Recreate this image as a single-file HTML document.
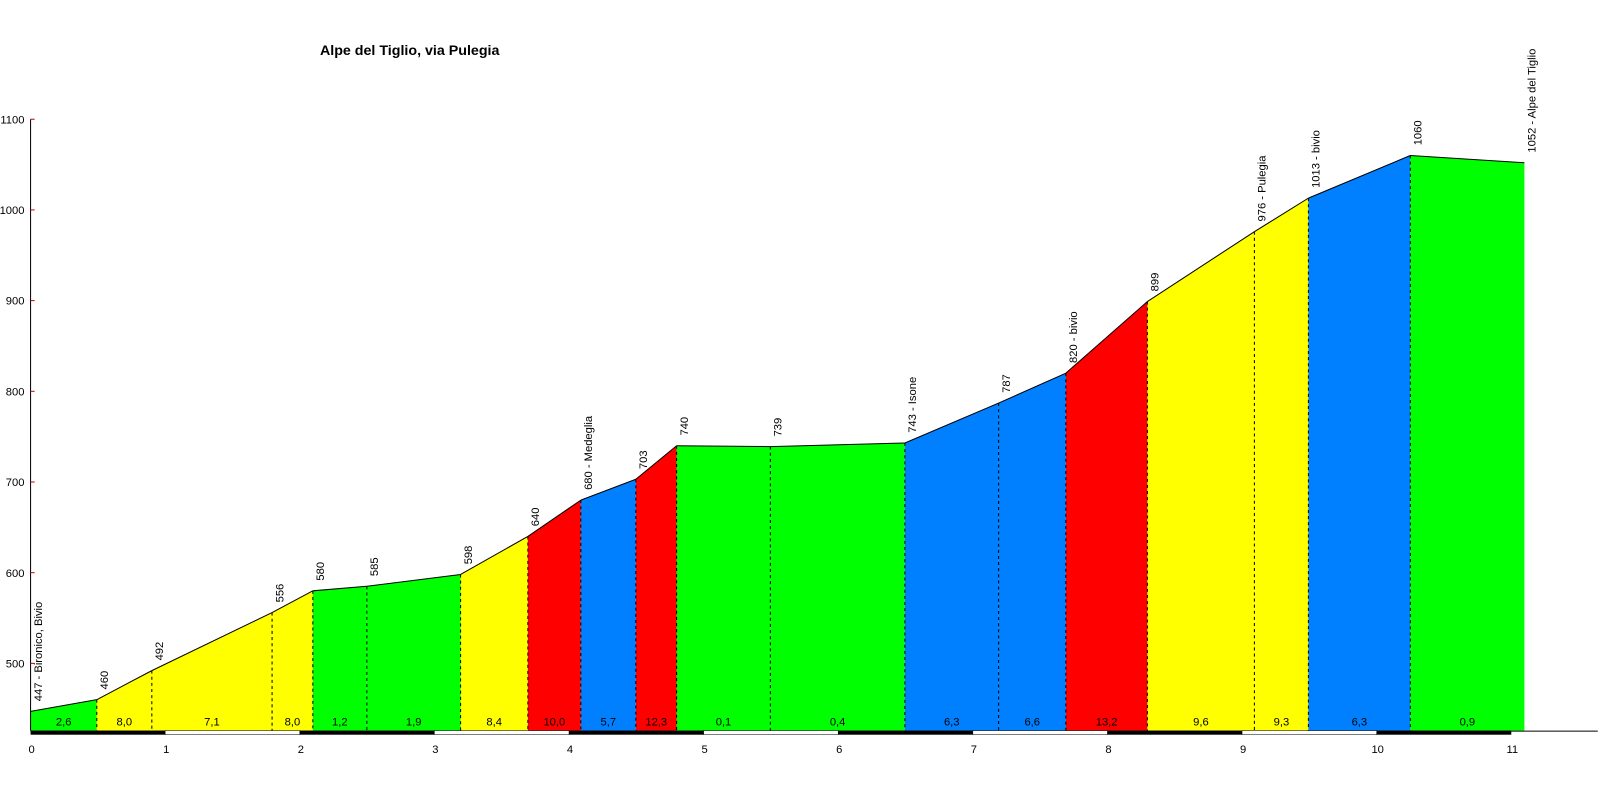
<!DOCTYPE html>
<html><head><meta charset="utf-8"><style>html,body{margin:0;background:#fff;overflow:hidden}svg{display:block}</style></head><body>
<svg width="1600" height="800" xmlns="http://www.w3.org/2000/svg" font-family="Liberation Sans, sans-serif">
<g transform="scale(1.019)">
<text x="314" y="54" font-size="14" font-weight="bold">Alpe del Tiglio, via Pulegia</text>
<g id="fills"></g>
<g id="dash" stroke="#000" stroke-dasharray="3,3" stroke-width="1"></g>
<g id="lbl" font-size="11"></g>
<g id="grad" font-size="11" text-anchor="middle"></g>
<line x1="30" y1="117" x2="30" y2="717" stroke="#000"/>
<g id="yt" font-size="11" text-anchor="end"></g>
<g id="band"></g>
<g id="xt" font-size="11" text-anchor="middle"></g>
</g>
</svg>
<script>
const ns="http://www.w3.org/2000/svg";
function el(p,t,a,txt){const e=document.createElementNS(ns,t);for(const k in a)e.setAttribute(k,a[k]);if(txt!==undefined)e.textContent=txt;document.getElementById(p).appendChild(e);return e;}
const Y=e=>651-(e-500)*0.89;
const P=[[30,447,"447 - Bironico, Bivio"],[95,460,"460"],[149,492,"492"],[267,556,"556"],[307,580,"580"],[360,585,"585"],[452,598,"598"],[518,640,"640"],[570,680,"680 - Medeglia"],[624,703,"703"],[664,740,"740"],[756,739,"739"],[888,743,"743 - Isone"],[980,787,"787"],[1046,820,"820 - bivio"],[1126,899,"899"],[1231,976,"976 - Pulegia"],[1284,1013,"1013 - bivio"],[1384,1060,"1060"],[1496,1052,"1052 - Alpe del Tiglio"]];
const G="#00ff00",Yl="#ffff00",R="#ff0000",B="#0080ff";
const col=[G,Yl,Yl,Yl,G,G,Yl,R,B,R,G,G,B,B,R,Yl,Yl,B,G];
const gr=["2,6","8,0","7,1","8,0","1,2","1,9","8,4","10,0","5,7","12,3","0,1","0,4","6,3","6,6","13,2","9,6","9,3","6,3","0,9"];
for(let i=0;i<P.length-1;i++){const[a,ea]=P[i],[b,eb]=P[i+1];
el("fills","polygon",{points:`${a},717 ${a},${Y(ea)} ${b},${Y(eb)} ${b},717`,fill:col[i]});
el("fills","line",{x1:a,y1:Y(ea),x2:b,y2:Y(eb),stroke:"#000"});
el("grad","text",{x:(a+b)/2,y:712},gr[i]);
if(i>0)el("dash","line",{x1:a,y1:Y(ea),x2:a,y2:717});}
P.forEach(([x,e,t])=>{el("lbl","text",{transform:`translate(${x+11},${Y(e)-10}) rotate(-90)`},t);});
for(let v=500;v<=1100;v+=100){el("yt","text",{x:24,y:Y(v)+4},v);el("yt","line",{x1:30,y1:Y(v),x2:34,y2:Y(v),stroke:"#c00"});}
el("band","line",{x1:30,y1:717.5,x2:1568,y2:717.5,stroke:"#000"});
for(let k=0;k<11;k++){const x=30+k*132.1;el("band","rect",{x:x,y:717,width:132.1,height:4,fill:k%2?"#fff":"#000",stroke:"#000","stroke-width":k%2?0.5:0});}
for(let k=0;k<=11;k++)el("xt","text",{x:30+k*132.1+1,y:739},k);
</script>
</body></html>
